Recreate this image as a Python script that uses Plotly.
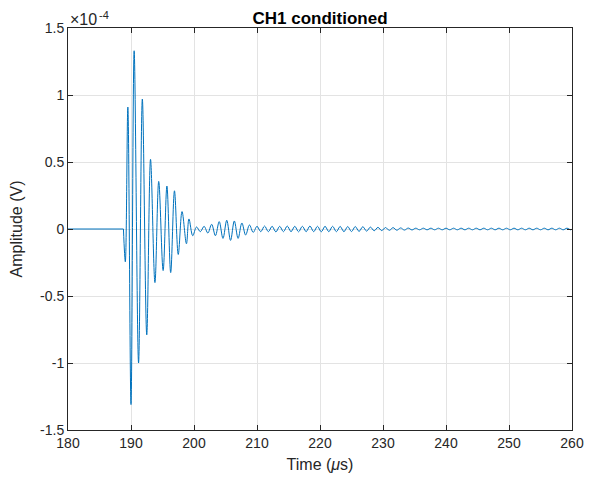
import plotly.graph_objects as go

# Flat baseline before the burst arrives (microseconds, units of 1e-4 V)
quiet_time_us = [180.0, 188.8]
quiet_amplitude_e4 = [0.0, 0.0]

# Time of each turning point of the waveform (microseconds)
time_us = [
    188.8,
    189.1, 189.5, 190.0, 190.5, 191.2, 191.8, 192.5, 193.1, 193.8, 194.4,
    195.1, 195.7, 196.3, 196.9, 197.5, 198.1, 198.8, 199.2, 199.8,
    200.4, 201.0, 201.6, 202.2, 202.8, 203.4, 204.0, 204.6, 205.2, 205.8,
    206.4, 207.0, 207.6, 208.2, 208.8, 209.4,
    210.0, 210.6, 211.2, 211.8, 212.4, 213.0, 213.6, 214.2, 214.8, 215.4,
    216.0, 216.6, 217.2, 217.8, 218.4, 219.0, 219.6, 220.2, 220.8, 221.4,
    222.0, 222.6, 223.2, 223.8, 224.4, 225.0, 225.6, 226.2, 226.8, 227.4,
    228.0, 228.6, 229.2, 229.8, 230.4, 231.0, 231.6, 232.2, 232.8, 233.4,
    234.0, 234.6, 235.2, 235.8, 236.4, 237.0, 237.6, 238.2, 238.8, 239.4,
    240.0, 240.6, 241.2, 241.8, 242.4, 243.0, 243.6, 244.2, 244.8, 245.4,
    246.0, 246.6, 247.2, 247.8, 248.4, 249.0, 249.6, 250.2, 250.8, 251.4,
    252.0, 252.6, 253.2, 253.8, 254.4, 255.0, 255.6, 256.2, 256.8, 257.4,
    258.0, 258.6, 259.2, 259.8, 260.0,
]

# Amplitude at those points, in units of 1e-4 V
amplitude_e4 = [
    0.0,
    -0.245, 0.91, -1.31, 1.33, -1.00, 0.97, -0.79, 0.52, -0.40, 0.355,
    -0.31, 0.32, -0.325, 0.285, -0.19, 0.13, -0.11, 0.075, -0.05,
    0.015, -0.02, 0.02, -0.03, 0.035, -0.05, 0.055, -0.07, 0.065, -0.085,
    0.06, -0.07, 0.045, -0.045, 0.03, -0.025,
    0.02, -0.02, 0.022, -0.02, 0.02, -0.022, 0.02, -0.02, 0.022, -0.02,
    0.02, -0.021, 0.02, -0.02, 0.022, -0.02, 0.02, -0.021, 0.02, -0.02,
    0.02, -0.02, 0.019, -0.02, 0.018, -0.019, 0.018, -0.018, 0.017, -0.016,
    0.014, -0.013, 0.012, -0.012, 0.011, -0.01, 0.01, -0.009, 0.008, -0.008,
    0.007, -0.007, 0.006, -0.006, 0.006, -0.006, 0.006, -0.006, 0.006, -0.006,
    0.006, -0.006, 0.006, -0.006, 0.006, -0.006, 0.006, -0.006, 0.006, -0.006,
    0.006, -0.006, 0.006, -0.006, 0.006, -0.006, 0.006, -0.006, 0.006, -0.006,
    0.006, -0.006, 0.006, -0.006, 0.006, -0.006, 0.006, -0.006, 0.006, -0.006,
    0.006, -0.006, 0.006, -0.006, 0.0,
]

x_ticks = [180, 190, 200, 210, 220, 230, 240, 250, 260]
y_ticks = [-1.5, -1, -0.5, 0, 0.5, 1, 1.5]
y_labels = ["-1.5", "-1", "-0.5", "0", "0.5", "1", "1.5"]

fig = go.Figure()

line_blue = '#0072BD'
fig.add_trace(go.Scatter(x=quiet_time_us, y=quiet_amplitude_e4, mode='lines',
                         line=dict(color=line_blue, width=1), name='CH1'))
fig.add_trace(go.Scatter(x=time_us, y=amplitude_e4, mode='lines',
                         line=dict(color=line_blue, width=1, shape='spline', smoothing=1.0),
                         name='CH1'))

axis_style = dict(showline=True, linecolor='#262626', linewidth=1, mirror='ticks',
                  ticks='inside', ticklen=5, tickcolor='#262626', automargin=False,
                  ticklabeloverflow='allow',
                  showgrid=True, gridcolor='#e3e3e3', gridwidth=1, zeroline=False,
                  tickfont=dict(size=14, color='#262626'))

fig.update_xaxes(range=[180, 260], tickvals=x_ticks, **axis_style,
                 title=dict(text="Time (<i>μ</i>s)", font=dict(size=16, color='#262626'), standoff=9))
fig.update_yaxes(range=[-1.5, 1.5], tickvals=y_ticks, ticktext=y_labels, **axis_style,
                 title=dict(text="Amplitude (V)", font=dict(size=16, color='#262626'), standoff=18))

# the page body adds 8px around the figure; leave room for the "260" label
fig.update_layout(
    width=576, height=465,
    margin=dict(l=60, r=12, t=20, b=43, autoexpand=False),
    paper_bgcolor='white', plot_bgcolor='white',
    font=dict(family="Liberation Sans, Arial, sans-serif", color='#262626'),
    showlegend=False,
    title=dict(text="<b>CH1 conditioned</b>", x=0.5, xref='paper', xanchor='center',
               y=1, yref='paper', yanchor='bottom', pad=dict(b=4),
               font=dict(size=17, color='black')),
)

# axis exponent, written as MATLAB does above the y axis
fig.add_annotation(text="×10", xref='paper', yref='paper', x=0, y=1,
                   xanchor='left', yanchor='bottom', showarrow=False, yshift=-2,
                   font=dict(size=16, color='#262626'))
fig.add_annotation(text="-4", xref='paper', yref='paper', x=0, y=1, xshift=29,
                   xanchor='left', yanchor='top', showarrow=False, yshift=21,
                   font=dict(size=11, color='#262626'))

fig.write_html("out.html")
